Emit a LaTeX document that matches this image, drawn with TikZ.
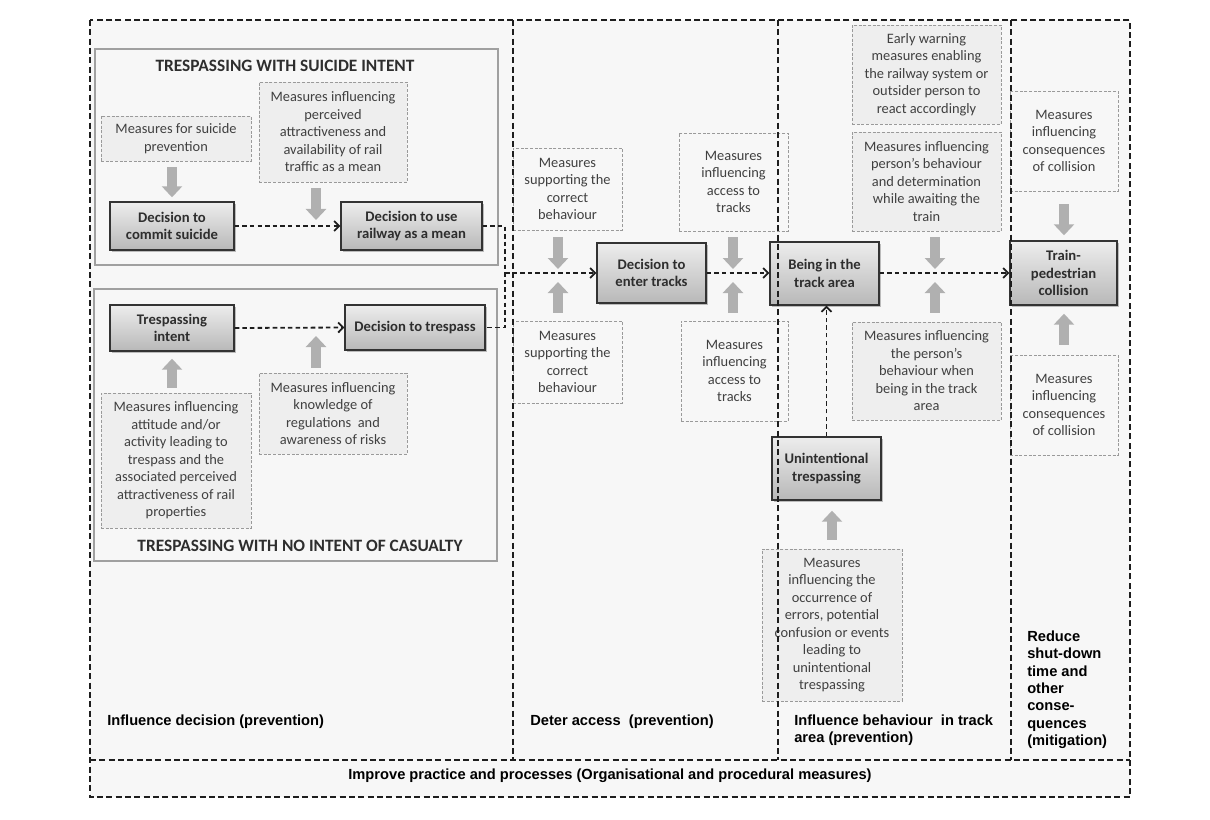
\documentclass[tikz,border=0pt]{standalone}
\usepackage{fontspec}
\setmainfont{Carlito}
\newfontfamily\labfont{Liberation Sans}
\usetikzlibrary{arrows.meta,shadows,calc}
\definecolor{bgc}{HTML}{F7F7F7}
\definecolor{mfill}{HTML}{EEEEEE}
\definecolor{mborder}{HTML}{9A9A9A}
\definecolor{mtext}{HTML}{404040}
\definecolor{ntext}{HTML}{2E2E2E}
\definecolor{blkc}{HTML}{B0B0B0}
\definecolor{panelc}{HTML}{A0A0A0}
\definecolor{ntop}{HTML}{EDEDED}
\definecolor{nbot}{HTML}{B8B8B8}
\definecolor{linec}{HTML}{1E1E1E}
\begin{document}
\begin{tikzpicture}[x=0.75pt,y=-0.75pt,
  sz/.style 2 args={minimum width={#1*0.75pt},minimum height={#2*0.75pt}},
  meas/.style={draw=mborder, dash pattern=on 2.2pt off 1.3pt, line width=0.6pt,
    align=center, inner sep=1pt, text=mtext, font=\fontsize{10.8}{13.1}\selectfont},
  measf/.style={meas, fill=mfill},
  proc/.style={draw=black!80, line width=1.1pt, top color=ntop, bottom color=nbot,
    align=center, inner sep=1pt, text=ntext, font=\fontsize{11}{13.3}\selectfont\bfseries,
    drop shadow={shadow xshift=1.6pt, shadow yshift=-1.6pt, fill=black!55, opacity=.45}},
  panel/.style={draw=panelc, line width=1.5pt},
  ptitle/.style={font=\fontsize{13}{15}\selectfont\bfseries, text=ntext, inner sep=0pt},
  blk/.style={draw=blkc, line width=7.5pt, -{Triangle[length=8.25pt,width=15pt]}},
  dconn/.style={draw=linec, line width=1.35pt, dash pattern=on 3.4pt off 2.3pt,
    -{Straight Barb[length=3.6pt,width=7.5pt]}},
  dline/.style={draw=linec, line width=1.35pt, dash pattern=on 3.4pt off 2.3pt},
  divider/.style={draw=linec, line width=1.4pt, dash pattern=on 4.5pt off 2.5pt},
  lab/.style={font=\labfont\fontsize{11}{13}\selectfont\bfseries, text=black, inner sep=0pt}
]
\useasboundingbox (0,0) rectangle (1210,820);
% background
\fill[bgc] (90,20) rectangle (1130,797);
% panels
\draw[panel] (95,49) rectangle (498,265);
\draw[panel] (94,289) rectangle (497,561);
\node[ptitle] (title1) at (285,66) {TRESPASSING WITH SUICIDE INTENT};
\node[ptitle] (title2) at (300,546) {TRESPASSING WITH NO INTENT OF CASUALTY};

% measure boxes
\node[measf, sz={150}{45}] (m_suic) at (176,138.5) {Measures for suicide\\prevention};
\node[measf, sz={148}{100}] (m_attr) at (333,132) {Measures influencing\\perceived\\attractiveness and\\availability of rail\\traffic as a mean};
\node[measf, sz={150}{135}] (m_att) at (176,460.5) {Measures influencing\\attitude and/or\\activity leading to\\trespass and the\\associated perceived\\attractiveness of rail\\properties};
\node[measf, sz={148}{81}] (m_know) at (333,413.5) {Measures influencing\\knowledge of\\regulations~ and\\awareness of risks};
\node[meas, sz={109}{82}] (m_sup1) at (567.5,189) {Measures\\supporting the\\correct\\behaviour};
\node[meas, sz={109}{82}] (m_sup2) at (567.5,362) {Measures\\supporting the\\correct\\behaviour};
\node[meas, sz={109}{98}] (m_acc1) at (733.5,182) {Measures\\influencing\\access to\\tracks};
\node[meas, sz={107}{100}] (m_acc2) at (734.5,371) {Measures\\influencing\\access to\\tracks};
\node[measf, sz={149}{99}] (m_early) at (926.5,74.5) {Early warning\\measures enabling\\the railway system or\\outsider person to\\react accordingly};
\node[measf, sz={149}{99}] (m_pers) at (926.5,181.5) {Measures influencing\\person’s behaviour\\and determination\\while awaiting the\\train};
\node[measf, sz={149}{98}] (m_being) at (926.5,371) {Measures influencing\\the person’s\\behaviour when\\being in the track\\area};
\node[meas, sz={108}{100}] (m_cons1) at (1064,141) {Measures\\influencing\\consequences\\of collision};
\node[meas, sz={108}{100}] (m_cons2) at (1064,405) {Measures\\influencing\\consequences\\of collision};
\node[measf, sz={140}{152}] (m_err) at (832,625) {Measures\\influencing the\\occurrence of\\errors, potential\\confusion or events\\leading to\\unintentional\\trespassing};

% process nodes
\node[proc, sz={124}{48}] (n_commit) at (172,226) {Decision to\\commit suicide};
\node[proc, sz={141}{48}] (n_rail) at (411.5,226) {Decision to use\\railway as a mean};
\node[proc, sz={124}{46}] (n_intent) at (172,328) {Trespassing\\intent};
\node[proc, sz={140}{45}] (n_trespass) at (415,327.5) {Decision to trespass};
\node[proc, sz={109}{60}] (n_enter) at (651.5,273) {Decision to\\enter tracks};
\node[proc, sz={109}{63}] (n_being) at (824.5,273.5) {Being in the\\track area};
\node[proc, sz={109}{63}] (n_unint) at (826.5,468.5) {Unintentional\\trespassing};
\node[proc, sz={107}{64}] (n_coll) at (1063.5,273) {Train-\\pedestrian\\collision};

% helper coordinates on connectors
\coordinate (j) at (505,273);
\coordinate (t1) at (316,226);
\coordinate (t2) at (316,328);
\coordinate (t3) at (558,273);
\coordinate (t4) at (733,273);
\coordinate (t5) at (935,273);

% dashed connectors
\draw[dconn] (n_commit.east) -- (n_rail.west);
\draw[dconn] (n_intent.east) -- (n_trespass.west);
\draw[dline] (n_rail.east) -| (j) |- (n_trespass.east);
\draw[dconn] (j) -- (n_enter.west);
\draw[dconn] (n_enter.east) -- (n_being.west |- n_enter.east);
\draw[dconn] (n_being.east |- n_enter.east) -- (n_coll.west |- n_enter.east);
\draw[dconn] (n_unint.north) -- (n_unint.north |- n_being.south);

% block arrows
\draw[blk] ($(m_suic.south -| n_commit.north)+(0,6)$) -- ($(n_commit.north)+(0,-4)$);
\draw[blk] ($(m_attr.south -| t1)+(0,6)$) -- ($(t1)+(0,-6)$);
\draw[blk] ($(m_att.north -| n_intent.south)+(0,-5)$) -- ($(n_intent.south)+(0,7)$);
\draw[blk] ($(m_know.north -| t2)+(0,-5)$) -- ($(t2)+(0,8)$);
\draw[blk] ($(m_sup1.south -| t3)+(0,7)$) -- ($(t3)+(0,-4)$);
\draw[blk] ($(m_sup2.north -| t3)+(0,-8)$) -- ($(t3)+(0,9)$);
\draw[blk] ($(m_acc1.south -| t4)+(0,6)$) -- ($(t4)+(0,-4)$);
\draw[blk] ($(m_acc2.north -| t4)+(0,-8)$) -- ($(t4)+(0,9)$);
\draw[blk] ($(m_pers.south -| t5)+(0,6)$) -- ($(t5)+(0,-4)$);
\draw[blk] ($(m_being.north -| t5)+(0,-9)$) -- ($(t5)+(0,9)$);
\draw[blk] ($(m_cons1.south)+(0,13)$) -- ($(n_coll.north -| m_cons1.south)+(0,-5)$);
\draw[blk] ($(m_cons2.north)+(0,-10)$) -- ($(n_coll.south -| m_cons2.north)+(0,8)$);
\draw[blk] ($(m_err.north)+(0,-9)$) -- ($(n_unint.south -| m_err.north)+(0,10)$);

% section labels
\node[lab, anchor=base west] (l1) at (107,725) {Influence decision (prevention)};
\node[lab, anchor=base west] (l2) at (530,725) {Deter access\ \ (prevention)};
\node[lab, anchor=north west, align=left] (l3) at (794,714.3) {Influence behaviour\ \ in track\\area (prevention)};
\node[lab, anchor=north west, align=left] (l4) at (1027,630.5) {Reduce\\shut-down\\time and\\other\\conse-\\quences\\(mitigation)};
\node[lab] (l5) at (610,776) {Improve practice and processes (Organisational and procedural measures)};

% dividers and frame
\draw[divider] (513,20) -- (513,760);
\draw[divider] (778,20) -- (778,760);
\draw[divider] (1011,20) -- (1011,760);
\draw[divider] (90,760) -- (1130,760);
\draw[divider] (90,20) rectangle (1130,797);
\end{tikzpicture}
\end{document}
